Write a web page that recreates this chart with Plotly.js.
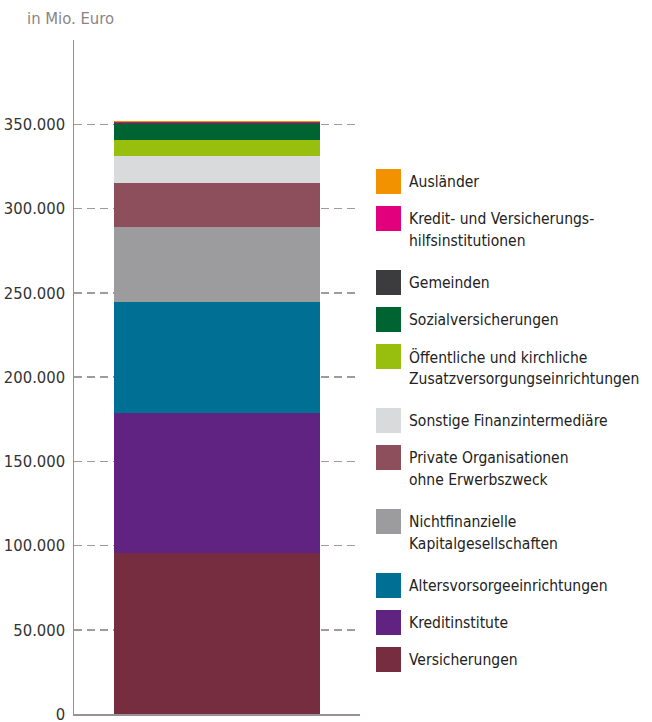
<!DOCTYPE html>
<html>
<head>
<meta charset="utf-8">
<script src="https://cdn.plot.ly/plotly-3.0.1.min.js"></script>
<style>html,body{margin:0;padding:0;background:#fff;overflow:hidden;}#chart{width:652px;height:740px;}</style>
</head>
<body>
<div id="chart"></div>
<script>
// Data (stack order, bottom first)
const categories = ["Versicherungen", "Kreditinstitute", "Altersvorsorgeeinrichtungen",
  "Nichtfinanzielle<br>Kapitalgesellschaften", "Private Organisationen<br>ohne Erwerbszweck",
  "Sonstige Finanzintermediäre", "Öffentliche und kirchliche<br>Zusatzversorgungseinrichtungen",
  "Sozialversicherungen", "Gemeinden", "Kredit- und Versicherungs-<br>hilfsinstitutionen", "Ausländer"];
const values = [95500, 83100, 65900, 44500, 26100, 16000, 9500, 10100, 100, 700, 300];
const colors = ["#762D3F", "#612381", "#006F94", "#9C9C9E", "#8E4F5C", "#D9DADC",
  "#98BE0E", "#006432", "#3C3C3E", "#E3007D", "#F39200"];
const tickVals = [0, 50000, 100000, 150000, 200000, 250000, 300000, 350000, 400000];
const tickText = ["0", "50.000", "100.000", "150.000", "200.000", "250.000", "300.000", "350.000", ""];
const unitLabel = "in Mio. Euro";

const FONT = "'DejaVu Sans Condensed', 'Liberation Sans Narrow', sans-serif";
const FS = 16.5, LFS = 15.5;
const W = 652, H = 740;
const M = {l: 74, r: 292, t: 40, b: 26};
const pw = W - M.l - M.r, ph = H - M.t - M.b;
const px = x => (x - M.l) / pw;
const py = y => (H - M.b - y) / ph;

const traces = categories.map((c, i) => ({
  type: 'bar', x: [0], y: [values[i]], name: c.replace('<br>', ' '),
  marker: {color: colors[i], line: {width: 0}}, width: 0.72,
  showlegend: false, hoverinfo: 'name+y'
}));

// custom legend (top item = last in stack)
const shapes = [], annotations = [];
let legTop = 169;
for (let k = categories.length - 1; k >= 0; k--) {
  const lines = categories[k].split('<br>');
  shapes.push({type: 'rect', xref: 'paper', yref: 'paper',
    x0: px(376), x1: px(401), y0: py(legTop), y1: py(legTop + 25),
    fillcolor: colors[k], line: {width: 0}});
  lines.forEach((t, j) => {
    annotations.push({xref: 'paper', yref: 'paper', x: px(407), y: py(legTop + 13 + j * 22),
      xanchor: 'left', yanchor: 'middle', text: t, showarrow: false,
      font: {family: FONT, size: LFS, color: '#222'}});
  });
  legTop += 37 + 27 * (lines.length - 1);
}
annotations.push({xref: 'paper', yref: 'paper', x: px(25), y: py(19), xanchor: 'left', yanchor: 'middle',
  text: unitLabel, showarrow: false, font: {family: FONT, size: FS, color: '#8b8486'}});

const layout = {
  width: W, height: H, margin: M, paper_bgcolor: '#fff', plot_bgcolor: '#fff',
  barmode: 'stack', bargap: 0,
  font: {family: FONT, size: FS, color: '#333'},
  xaxis: {range: [-0.5, 0.5], showgrid: false, zeroline: false, showticklabels: false,
    showline: true, linecolor: '#9b9095', linewidth: 1.5, ticks: '', fixedrange: true},
  yaxis: {range: [0, 400000], tickvals: tickVals, ticktext: tickText, showgrid: true,
    gridcolor: '#a3989c', gridwidth: 1.5, griddash: '8px,5px', zeroline: false,
    showline: true, linecolor: '#9b9095', linewidth: 1.5, ticks: '', ticklabelstandoff: 4,
    tickfont: {family: FONT, size: FS, color: '#333'}, fixedrange: true},
  shapes: shapes, annotations: annotations, showlegend: false
};
Plotly.newPlot('chart', traces, layout, {displayModeBar: false, staticPlot: true});
</script>
</body>
</html>
